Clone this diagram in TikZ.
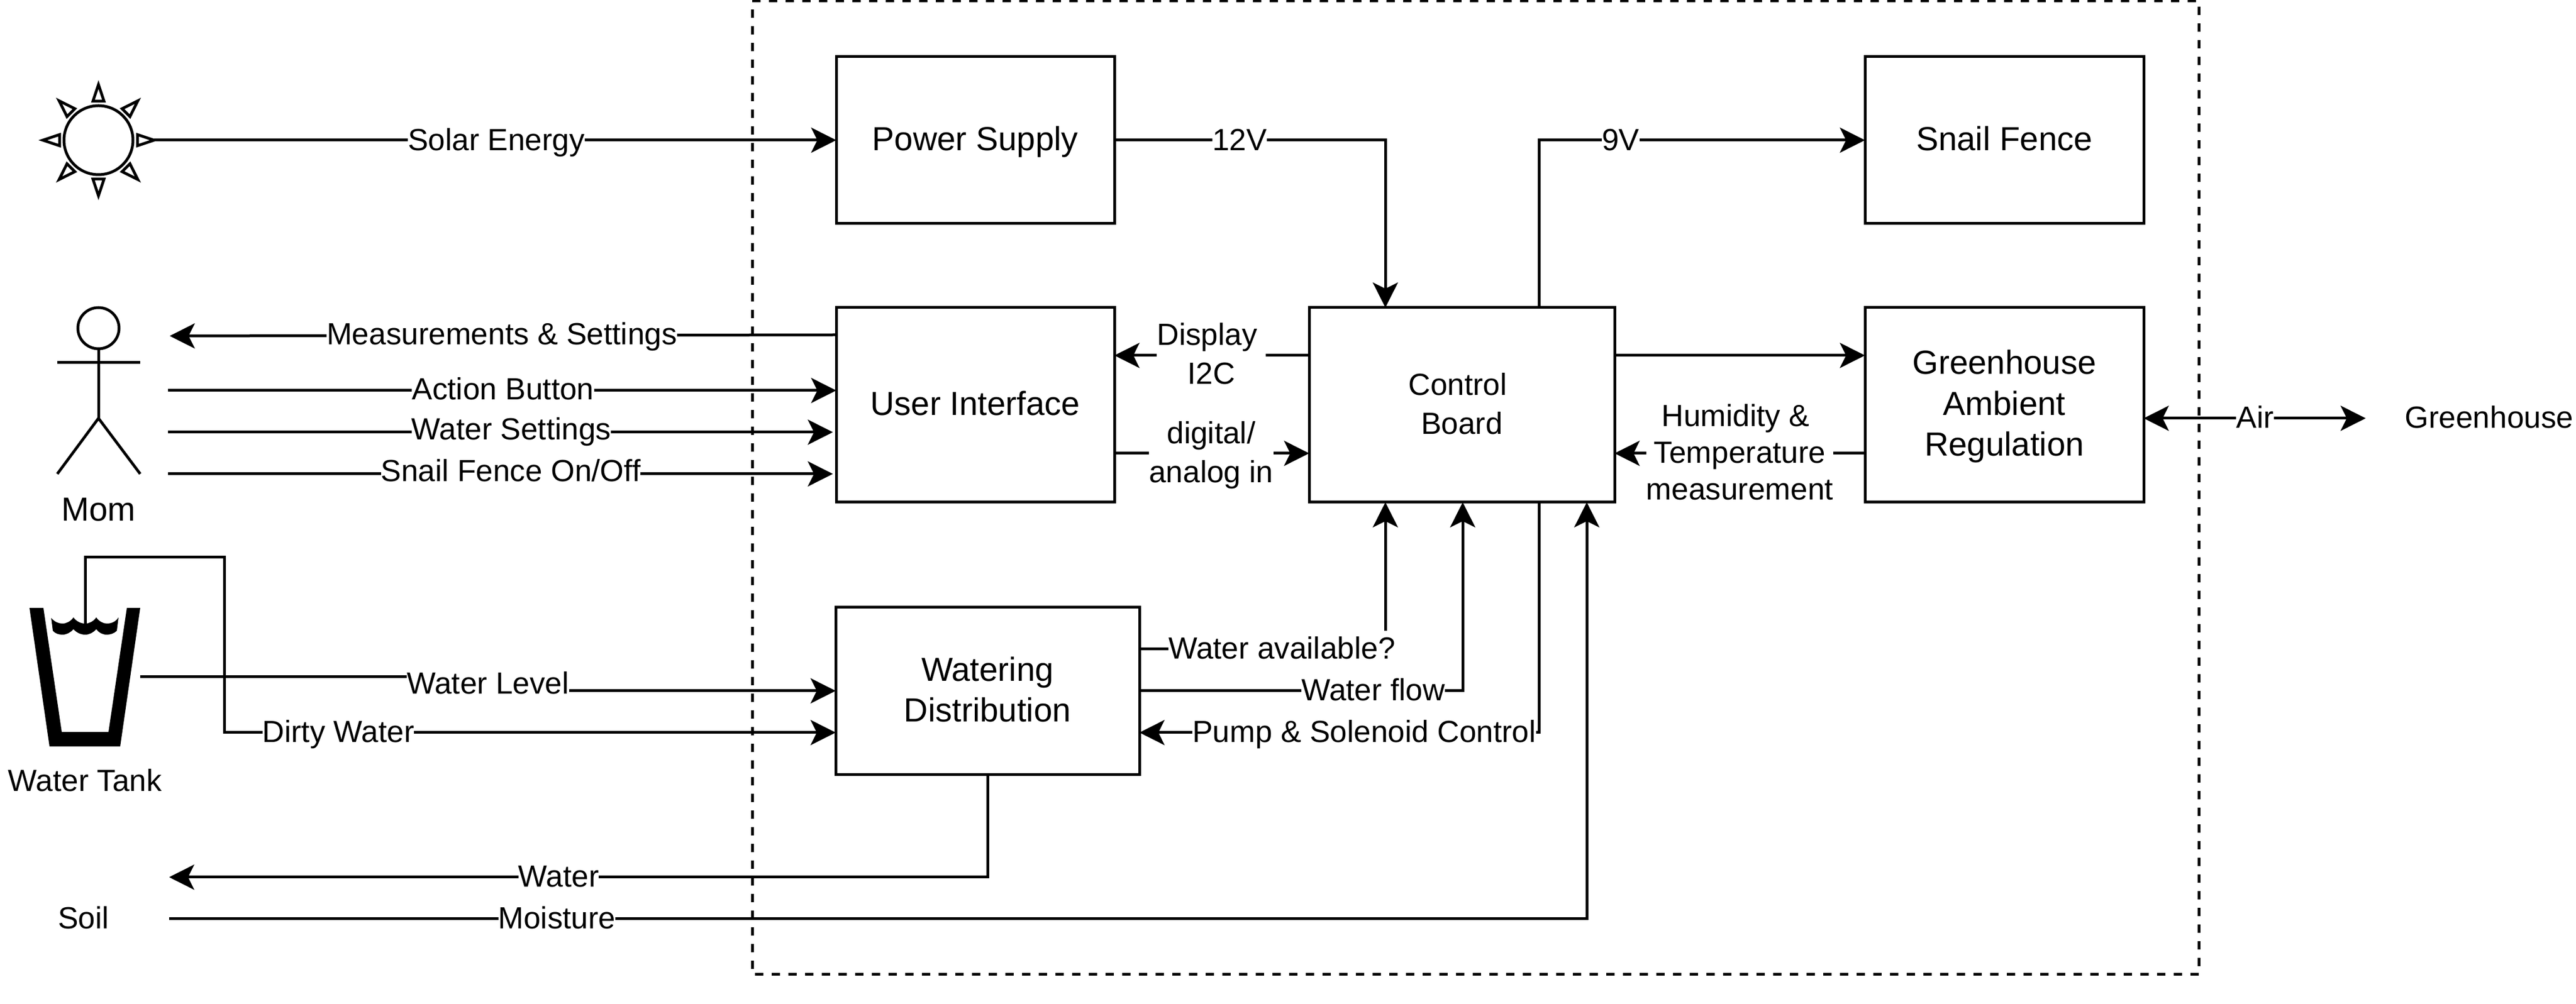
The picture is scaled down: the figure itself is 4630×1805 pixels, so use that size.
\documentclass[tikz,border=0pt]{standalone}
\usepackage{fontspec}
\setmainfont{Liberation Sans}
\usetikzlibrary{arrows.meta,calc}
\newcommand{\bs}{\rule[-4.4pt]{0pt}{18pt}}
\newcommand{\cs}{\rule[-4.4pt]{0pt}{17.4pt}}
\newcommand{\ls}{\rule[-3.75pt]{0pt}{16.25pt}}
\tikzset{
  wire/.style={line width=1.25pt,draw=black,line join=miter},
  arr/.style={wire,-{Stealth[length=11.25pt,width=11.25pt,inset=2.75pt]}},
  biarr/.style={wire,{Stealth[length=11.25pt,width=11.25pt,inset=2.75pt]}-{Stealth[length=11.25pt,width=11.25pt,inset=2.75pt]}},
  boxnode/.style={draw=black,line width=1.25pt,fill=white,inner sep=0pt,outer sep=0pt,align=center,font=\fontsize{15}{18.4}\selectfont},
  lbl/.style={fill=white,inner sep=0pt,outer sep=0pt,align=center,font=\fontsize{13.75}{17.5}\selectfont},
  plain/.style={inner sep=0pt,outer sep=0pt,align=center,font=\fontsize{13.75}{17.5}\selectfont},
  sunray/.style={line width=1.25pt,draw=black,fill=white,line join=miter},
  limbs/.style={line width=1.25pt,draw=black},
  frameline/.style={line width=1.25pt,draw=black,dash pattern=on 3.75pt off 3.75pt}
}
\begin{document}
\begin{tikzpicture}[x=0.25pt,y=-0.25pt]
\useasboundingbox (0,0) rectangle (4630,1805);

% system boundary
\draw[frameline] (1352,2) -- (3952,2) -- (3952,1752) -- (1352,1752) -- cycle;

% blocks
\node[boxnode,minimum width=125pt,minimum height=75pt] (ps) at (1753,252) {\bs Power Supply};
\node[boxnode,minimum width=125pt,minimum height=87.5pt] (ui) at (1753,728) {\bs User Interface};
\node[boxnode,minimum width=137.25pt,minimum height=87.5pt,font=\fontsize{13.75}{17.5}\selectfont] (cb) at (2627.5,728) {\cs Control\hspace*{3.75pt}\\\cs Board};
\node[boxnode,minimum width=125.25pt,minimum height=75pt] (sf) at (3602.5,252) {\bs Snail Fence};
\node[boxnode,minimum width=125.25pt,minimum height=87.5pt] (gh) at (3602.5,728) {\bs Greenhouse\\\bs Ambient\\\bs Regulation};
\node[boxnode,minimum width=136.5pt,minimum height=75.25pt] (wd) at (1775,1242.5) {\bs Watering\\\bs Distribution};

% sun
\node[draw=black,line width=1.25pt,fill=white,circle,inner sep=0pt,outer sep=0pt,minimum size=31pt] (sun) at (177,252) {};
\foreach \a in {0,45,...,315}{
  \begin{scope}[shift={(177,252)},rotate=\a]
    \draw[sunray] (70,-10) -- (100,0) -- (70,10) -- cycle;
  \end{scope}
}
\coordinate (sunE) at (277,252);

% stick figure
\node[draw=black,line width=1.25pt,circle,inner sep=0pt,outer sep=0pt,minimum size=18.5pt] (head) at (177,590) {};
\coordinate (hip) at (177,752);
\coordinate (armL) at (103,652);
\coordinate (armR) at (252,652);
\coordinate (legL) at (103,852);
\coordinate (legR) at (252,852);
\draw[limbs] (head.south) -- (hip);
\draw[limbs] (armL) -- (armR);
\draw[limbs,line join=miter] (legL) -- (hip) -- (legR);

% water tank
\fill[black] (53,1093) -- (78,1093) -- (111,1316) -- (195,1316) -- (228,1093) -- (252,1093) -- (216,1342) -- (89,1342) -- cycle;
\fill[black] (92,1111)
  .. controls (98,1118) and (105,1121) .. (112,1121)
  .. controls (120,1121) and (127,1117) .. (132,1110)
  .. controls (137,1117) and (145,1121) .. (153,1121)
  .. controls (161,1121) and (168,1117) .. (173,1110)
  .. controls (178,1117) and (185,1121) .. (192,1121)
  .. controls (200,1121) and (208,1118) .. (213,1110)
  -- (210,1134)
  .. controls (205,1139) and (198,1141) .. (192,1141)
  .. controls (184,1141) and (177,1137) .. (173,1131)
  .. controls (168,1137) and (161,1141) .. (153,1141)
  .. controls (145,1141) and (137,1137) .. (132,1131)
  .. controls (127,1137) and (120,1141) .. (112,1141)
  .. controls (106,1141) and (99,1139) .. (95,1134)
  -- cycle;

% free ends
\coordinate (mMeas) at (305,604);
\coordinate (mAct) at (302,702);
\coordinate (mSet) at (302,777);
\coordinate (mFen) at (302,852);
\coordinate (uiSet) at (1497,777);
\coordinate (uiFen) at (1497,852);
\coordinate (tkSurf) at (153,1121);
\coordinate (tkSide) at (252,1217);
\coordinate (soilW) at (304,1577);
\coordinate (soilM) at (304,1652);
\coordinate (ghOut) at (4252,752);

% connectors
\draw[arr] (sunE) -- (sunE -| ps.west);
\draw[arr] (ps.east) -- (2490,252) -- (cb.north -| 2490,0);
\draw[arr] (cb.north -| 2766,0) -- (2766,252) -- (sf.west);
\draw[arr] (ui.west |- 0,602) -- (mMeas);
\draw[arr] (mAct) -- (ui.west |- 0,702);
\draw[arr] (mSet) -- (uiSet);
\draw[arr] (mFen) -- (uiFen);
\draw[arr] (cb.west |- 0,639) -- (ui.east |- 0,639);
\draw[arr] (ui.east |- 0,815) -- (cb.west |- 0,815);
\draw[arr] (cb.east |- 0,639) -- (gh.west |- 0,639);
\draw[arr] (gh.west |- 0,815) -- (cb.east |- 0,815);
\draw[biarr] (gh.east |- 0,752) -- (ghOut);
\draw[arr] (tkSide) -- (877,1217) -- (877,1242) -- (wd.west |- 0,1242);
\draw[arr] (tkSurf) -- (153,1002) -- (403,1002) -- (403,1317) -- (wd.west |- 0,1317);
\draw[arr] (wd.east |- 0,1167) -- (2490,1167) -- (cb.south -| 2490,0);
\draw[arr] (wd.east |- 0,1242) -- (2629,1242) -- (cb.south -| 2629,0);
\draw[arr] (cb.south -| 2766,0) -- (2766,1317) -- (wd.east |- 0,1317);
\draw[arr] (wd.south) -- (1775,1577) -- (soilW);
\draw[arr] (soilM) -- (2852,1652) -- (cb.south -| 2852,0);

% connector labels
\node[lbl] (lSolar) at (892,253) {\ls Solar Energy};
\node[lbl] (lMeas) at (902,602) {\ls Measurements \& Settings};
\node[lbl] (lAct) at (904,701) {\ls Action Button};
\node[lbl] (lSet) at (919,773) {\ls Water Settings};
\node[lbl] (lFen) at (918,848) {\ls Snail Fence On/Off};
\node[lbl] (lLevel) at (877,1230) {\ls Water Level};
\node[lbl] (lDirty) at (608,1317) {\ls Dirty Water};
\node[lbl] (lWater) at (1004,1577) {\ls Water};
\node[lbl] (lMoist) at (1001,1652) {\ls Moisture};
\node[lbl] (l12) at (2228,253) {\ls 12V};
\node[lbl] (l9) at (2913,253) {\ls 9V};
\node[lbl] (lDisp) at (2177,638) {\ls Display\hspace*{3.75pt}\\\ls I2C};
\node[lbl] (lDig) at (2177,815) {\ls digital/\\\ls analog in};
\node[lbl,font=\fontsize{13.75}{16.4}\selectfont] (lHum) at (3127,815) {\ls Humidity \&\hspace*{3.75pt}\\\ls Temperature\hspace*{3.75pt}\\\ls measurement};
\node[lbl] (lAvail) at (2304,1167) {\ls Water available?};
\node[lbl] (lFlow) at (2468,1242) {\ls Water flow};
\node[lbl] (lPump) at (2452,1317) {\ls Pump \& Solenoid Control};
\node[lbl] (lAir) at (4053,752) {\ls Air};

% entity labels
\node[plain,font=\fontsize{15}{18}\selectfont] (lMom) at (177,918) {\bs Mom};
\node[plain] (lTank) at (153,1405) {\ls Water Tank};
\node[plain] (lSoil) at (150,1652) {\ls Soil};
\node[plain] (lGreen) at (4474,752) {\ls Greenhouse};
\end{tikzpicture}
\end{document}
